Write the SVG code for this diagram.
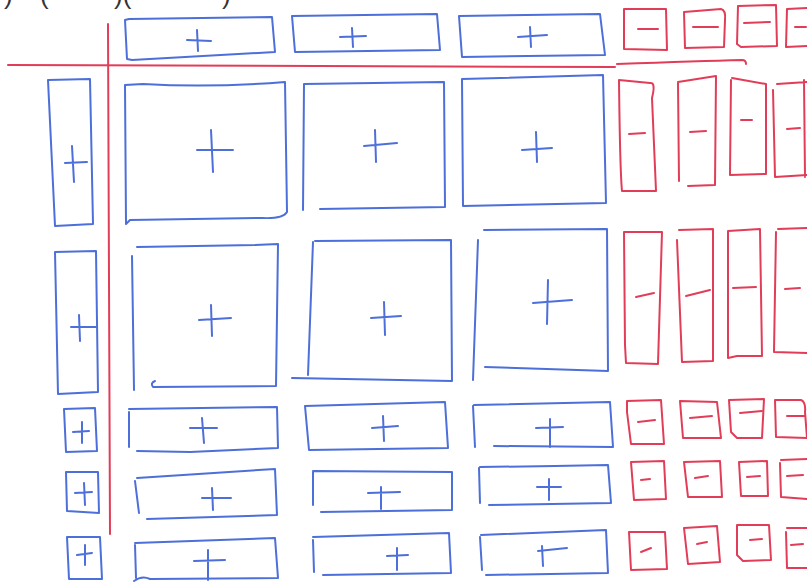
<svg xmlns="http://www.w3.org/2000/svg" width="807" height="582" viewBox="0 0 807 582">
<style>
.b{fill:none;stroke:#4d6fd9;stroke-width:2;stroke-linejoin:round;stroke-linecap:round}
.r{fill:none;stroke:#e23d58;stroke-width:2;stroke-linejoin:round;stroke-linecap:round}
.t{font-family:"Liberation Sans",Arial,sans-serif;font-size:26px;fill:#333}
</style>
<rect width="807" height="582" fill="#fff"/>
<g id="caption"><text class="t" x="4" y="4">)</text><text class="t" x="40" y="4">(</text><text class="t" x="114" y="4">)(</text><text class="t" x="222" y="4">)</text></g>
<g id="axes">
<path class="r" d="M8 65 Q300 66 615 67"/>
<path class="r" d="M617 64 Q700 61 742 60 Q746 60 746 64"/>
<path class="r" d="M108 24 Q110 280 110 534"/>
</g>
<g id="header-1"><path class="b" d="M125 20 L129 19 L272 17 L275 52 L132 60 L127 59 Z"/><path class="b" d="M187 40 L211 41 M197 30 L198 51"/></g>
<g id="header-2"><path class="b" d="M292 16 L437 14 L440 50 L295 52 Z"/><path class="b" d="M340 37 L366 36 M352 28 L353 47"/></g>
<g id="header-3"><path class="b" d="M459 16 L600 14 L605 55 L462 57 Z"/><path class="b" d="M518 37 L547 35 M530 27 L531 47"/></g>
<g id="row-header-1"><path class="b" d="M48 80 L90 79 L93 224 L55 226 Z"/><path class="b" d="M65 163 L87 162 M72 146 L74 182"/></g>
<g id="row-header-2"><path class="b" d="M55 252 L96 251 L98 392 L58 394 Z"/><path class="b" d="M71 327 L96 327 M79 315 L80 341"/></g>
<g id="row-header-3"><path class="b" d="M64 409 L95 408 L97 451 L66 452 Z"/><path class="b" d="M73 432 L89 431 M82 422 L82 443"/></g>
<g id="row-header-4"><path class="b" d="M66 472 L98 472 L99 513 L67 511 Z"/><path class="b" d="M75 493 L92 492 M84 483 L85 505"/></g>
<g id="row-header-5"><path class="b" d="M67 537 L100 537 L102 579 L69 579 Z"/><path class="b" d="M77 555 L92 553 M85 545 L85 565"/></g>
<g id="cell-1-1"><path class="b" d="M125 85 L143 84 Q210 88 285 82 L287 212 Q283 219 262 218 L130 220 L126 224 Z"/><path class="b" d="M197 150 L233 150 M211 130 L213 172"/></g>
<g id="cell-1-2"><path class="b" d="M304 84 L444 82 L445 207 L320 209 M304 84 L303 210"/><path class="b" d="M364 146 L397 143 M375 130 L376 162"/></g>
<g id="cell-1-3"><path class="b" d="M462 79 L603 75 L606 203 L463 206 Z"/><path class="b" d="M522 150 L552 148 M536 132 L537 162"/></g>
<g id="cell-2-1"><path class="b" d="M137 247 L255 245 L278 244 L276 386 L153 387 Q150 383 155 381 M132 256 L134 390"/><path class="b" d="M199 320 L231 318 M211 305 L212 336"/></g>
<g id="cell-2-2"><path class="b" d="M315 241 L451 240 L452 381 L292 378 M313 242 L308 375"/><path class="b" d="M371 318 L401 316 M384 302 L385 335"/></g>
<g id="cell-2-3"><path class="b" d="M484 230 L607 229 L608 371 L485 367 M478 240 L473 380"/><path class="b" d="M533 303 L572 300 M548 280 L547 324"/></g>
<g id="cell-3-1"><path class="b" d="M129 409 L277 407 L278 448 L190 452 L137 451 M129 412 L129 447"/><path class="b" d="M190 428 L217 428 M202 418 L204 443"/></g>
<g id="cell-3-2"><path class="b" d="M305 406 L445 402 L448 448 L309 450 Z"/><path class="b" d="M372 428 L398 426 M383 416 L384 441"/></g>
<g id="cell-3-3"><path class="b" d="M474 405 L610 402 L613 447 L494 446 M473 406 L475 447"/><path class="b" d="M536 428 L563 427 M550 419 L550 447"/></g>
<g id="cell-4-1"><path class="b" d="M137 478 L275 469 L277 515 L147 519 M135 481 L139 513"/><path class="b" d="M202 498 L231 498 M212 488 L213 510"/></g>
<g id="cell-4-2"><path class="b" d="M313 471 L452 472 L452 510 L321 512 M313 472 L313 505"/><path class="b" d="M368 493 L400 492 M381 487 L381 509"/></g>
<g id="cell-4-3"><path class="b" d="M480 467 L555 466 L608 465 L611 503 L489 505 M479 468 L480 503"/><path class="b" d="M537 487 L561 487 M549 479 L549 500"/></g>
<g id="cell-5-1"><path class="b" d="M135 543 L275 538 L278 578 L150 579 Q142 575 134 581 M135 545 L136 578"/><path class="b" d="M194 561 L225 560 M208 550 L208 580"/></g>
<g id="cell-5-2"><path class="b" d="M313 537 L449 533 L451 573 L323 575 M313 540 L314 572"/><path class="b" d="M387 556 L408 555 M397 548 L397 570"/></g>
<g id="cell-5-3"><path class="b" d="M481 535 L606 530 L608 573 L486 575 M480 537 L482 570"/><path class="b" d="M538 551 L567 548 M542 546 L543 566"/></g>
<g id="col-header-1"><path class="r" d="M624 9 L666 9 L667 50 L624 49 Z"/><path class="r" d="M638 29 L658 29"/></g>
<g id="col-header-2"><path class="r" d="M684 12 L721 9 Q726 10 725 20 L724 47 L685 48 Z"/><path class="r" d="M693 27 L718 27"/></g>
<g id="col-header-3"><path class="r" d="M738 6 L776 5 L777 46 L741 47 L737 44 Z"/><path class="r" d="M744 23 L770 22"/></g>
<g id="col-header-4"><path class="r" d="M787 9 L807 8 M787 9 L786 47 L807 46"/><path class="r" d="M795 27 L806 27"/></g>
<g id="tall-1-1"><path class="r" d="M619 80 L650 83 Q656 82 652 98 L656 191 L622 191 Q620 170 619 80 Z"/><path class="r" d="M629 134 L645 133"/></g>
<g id="tall-1-2"><path class="r" d="M678 82 L716 76 L715 185 L688 186 M678 83 L679 181"/><path class="r" d="M690 132 L706 131"/></g>
<g id="tall-1-3"><path class="r" d="M732 78 L766 84 L766 174 L730 175 L731 80"/><path class="r" d="M741 120 L752 120"/></g>
<g id="tall-1-4"><path class="r" d="M777 84 L807 82 M773 90 L775 177 L807 175 M804 80 L805 177"/><path class="r" d="M787 129 L800 128"/></g>
<g id="tall-2-1"><path class="r" d="M624 232 L662 232 L658 364 L626 363 L625 345 Z"/><path class="r" d="M636 297 L654 293"/></g>
<g id="tall-2-2"><path class="r" d="M679 230 L713 229 L713 361 L682 362 L677 240"/><path class="r" d="M686 296 L710 290"/></g>
<g id="tall-2-3"><path class="r" d="M728 231 L760 229 L762 356 L737 356 L728 358 Z"/><path class="r" d="M733 288 L756 287"/></g>
<g id="tall-2-4"><path class="r" d="M778 229 L807 228 M776 232 L774 352 L807 353"/><path class="r" d="M785 289 L800 288"/></g>
<g id="cell-r-1-1"><path class="r" d="M627 401 L661 400 L664 444 L631 444 L627 412 Z"/><path class="r" d="M638 422 L655 420"/></g>
<g id="cell-r-1-2"><path class="r" d="M680 401 L717 402 L721 438 L683 438 Z"/><path class="r" d="M690 418 L712 416"/></g>
<g id="cell-r-1-3"><path class="r" d="M729 400 L764 399 L762 438 L737 438 L731 432 Z"/><path class="r" d="M740 413 L762 411"/></g>
<g id="cell-r-1-4"><path class="r" d="M775 400 L801 400 Q806 402 805 412 L807 438 L776 437 Z"/><path class="r" d="M787 416 L805 416"/></g>
<g id="cell-r-2-1"><path class="r" d="M631 462 L664 461 L666 499 L634 500 Z"/><path class="r" d="M641 480 L650 479"/></g>
<g id="cell-r-2-2"><path class="r" d="M684 462 L720 461 L722 497 L688 497 Z"/><path class="r" d="M695 478 L708 476"/></g>
<g id="cell-r-2-3"><path class="r" d="M739 462 L767 461 L768 496 L741 496 Z"/><path class="r" d="M747 477 L760 476"/></g>
<g id="cell-r-2-4"><path class="r" d="M781 460 L807 459 M780 463 L781 497 L807 499"/><path class="r" d="M787 476 L803 475"/></g>
<g id="cell-r-3-1"><path class="r" d="M629 532 L665 532 L667 569 L631 570 Z"/><path class="r" d="M641 552 L651 548"/></g>
<g id="cell-r-3-2"><path class="r" d="M684 528 L717 526 L720 562 L688 564 Z"/><path class="r" d="M697 544 L707 542"/></g>
<g id="cell-r-3-3"><path class="r" d="M737 525 L769 525 L771 560 L743 561 L737 555 Z"/><path class="r" d="M750 540 L762 539"/></g>
<g id="cell-r-3-4"><path class="r" d="M787 528 L807 528 M786 532 L787 568 L807 568"/><path class="r" d="M791 545 L803 544"/></g>
</svg>
